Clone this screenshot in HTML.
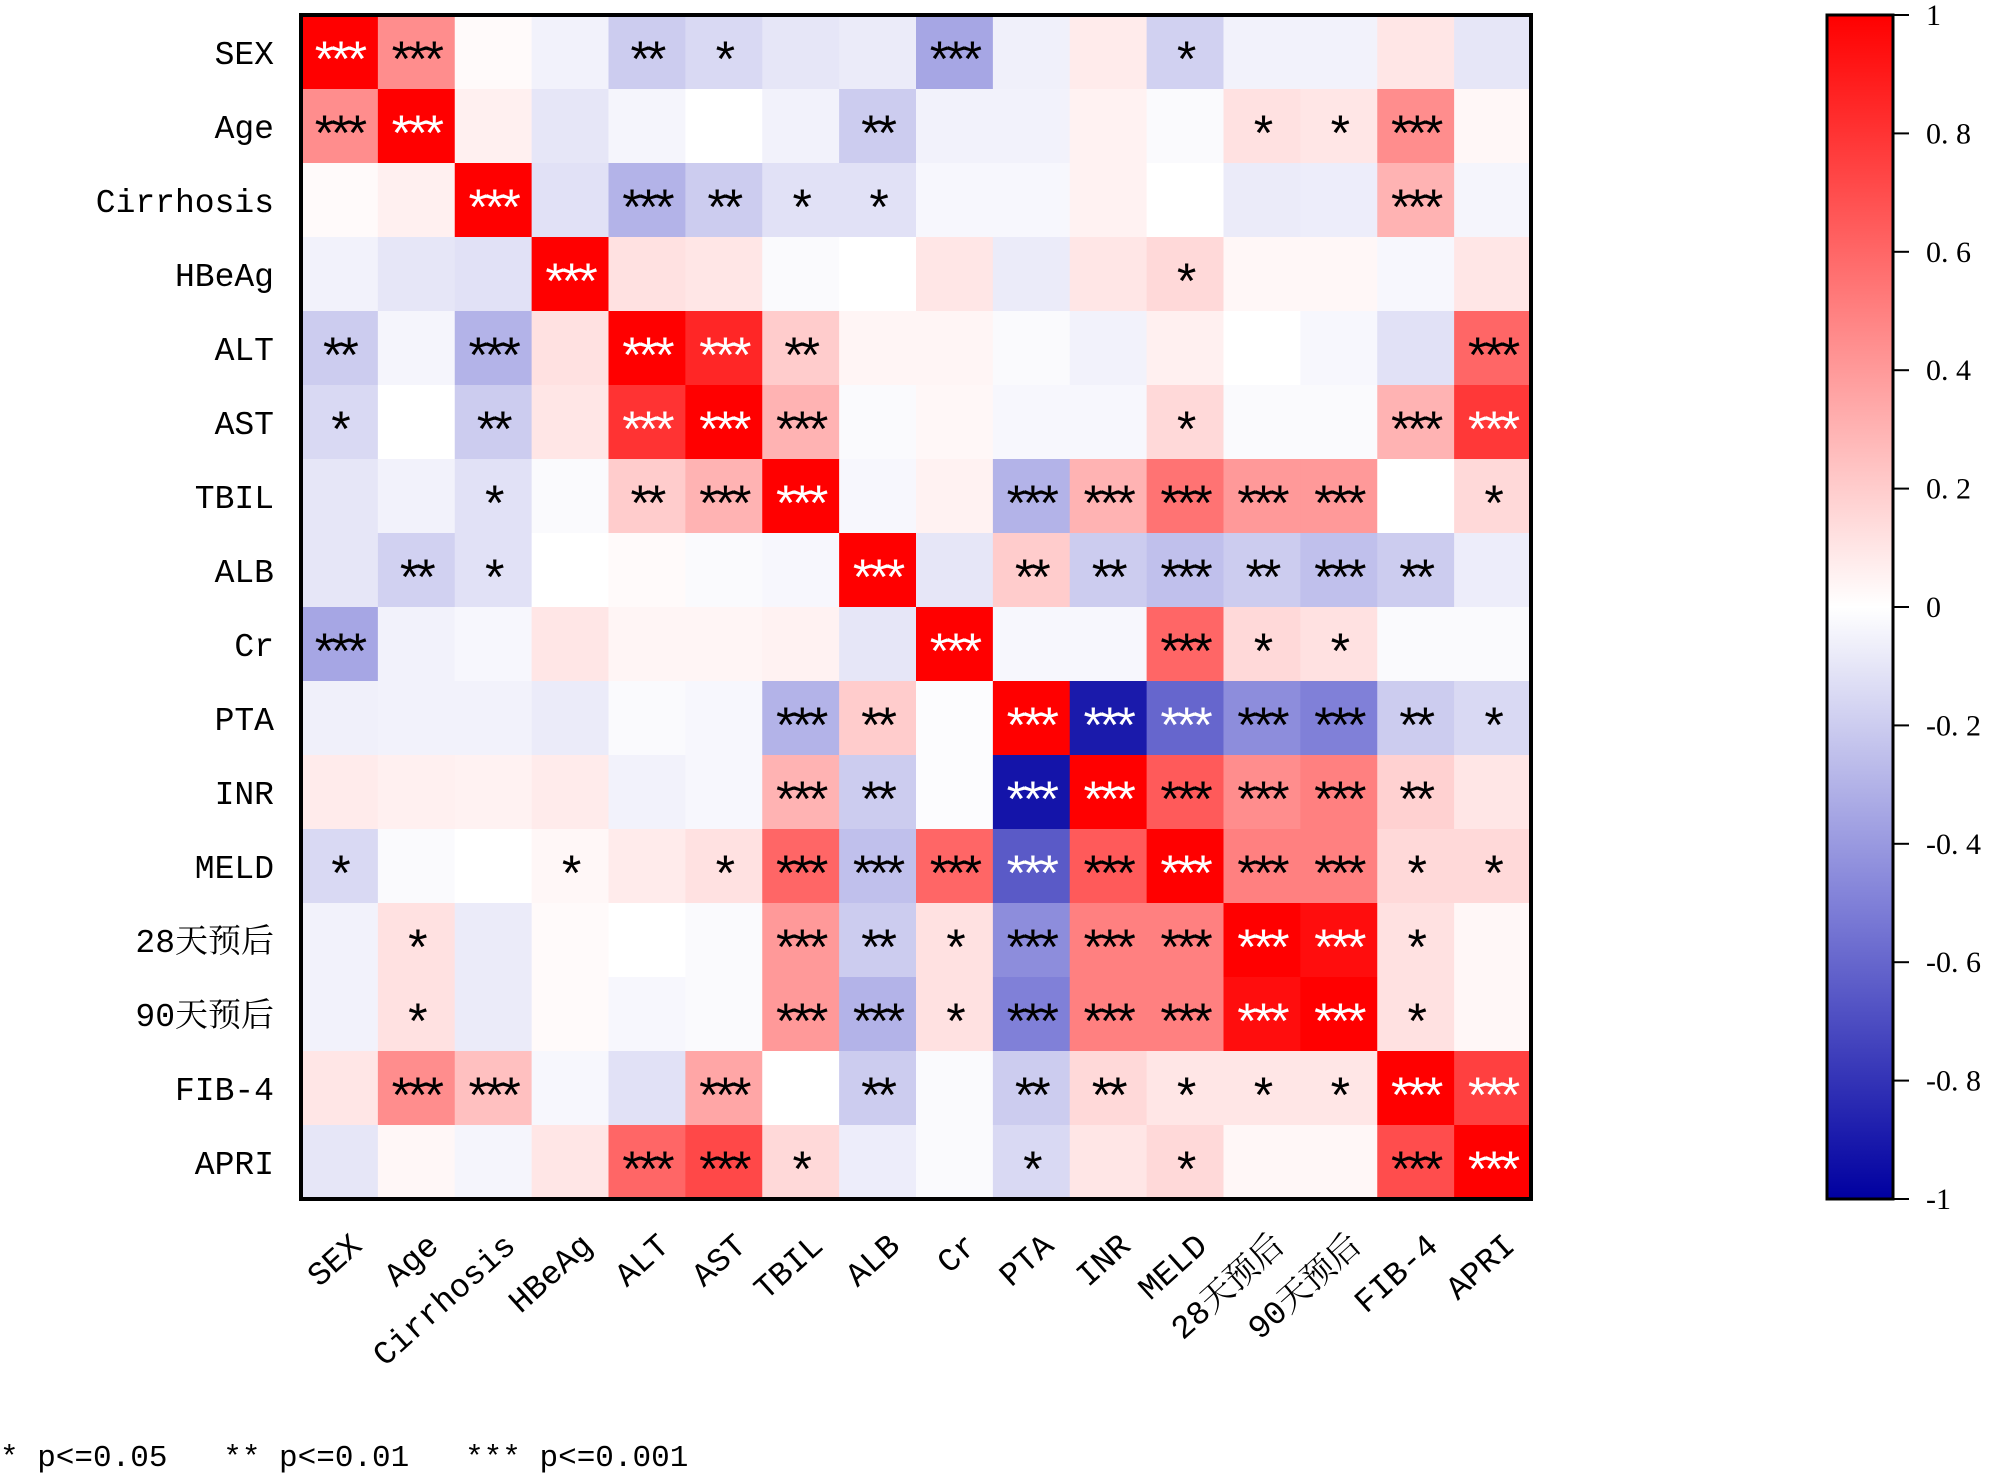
<!DOCTYPE html>
<html><head><meta charset="utf-8"><style>
html,body{margin:0;padding:0;background:#fff;}
svg{display:block;font-family:"Liberation Mono","Noto Serif CJK SC",monospace;}
</style></head><body>
<svg id="chart" width="2000" height="1474" viewBox="0 0 2000 1474">
<defs><linearGradient id="cbg" x1="0" y1="0" x2="0" y2="1">
<stop offset="0" stop-color="#ff0000"/><stop offset="0.25" stop-color="#ff8080"/><stop offset="0.5" stop-color="#ffffff"/><stop offset="0.75" stop-color="#8080d8"/><stop offset="1" stop-color="#0000a0"/></linearGradient></defs>
<g id="cells"></g><g id="stars"></g><g id="ylabels"></g><g id="xlabels"></g>
<rect x="301" y="15" width="1230" height="1184" fill="none" stroke="#000" stroke-width="4"/>
<rect x="1827" y="15" width="66" height="1184" fill="url(#cbg)" stroke="#000" stroke-width="3"/>
<g id="cbticks"></g>
<text x="0" y="1466" font-size="31" xml:space="preserve">* p&lt;=0.05   ** p&lt;=0.01   *** p&lt;=0.001</text>
</svg>
<script>
const labels=["SEX","Age","Cirrhosis","HBeAg","ALT","AST","TBIL","ALB","Cr","PTA","INR","MELD","28天预后","90天预后","FIB-4","APRI"];
const values=[
[1,0.45,0.02,-0.05,-0.2,-0.15,-0.1,-0.08,-0.35,-0.06,0.08,-0.18,-0.05,-0.05,0.1,-0.1],
[0.45,1,0.06,-0.1,-0.04,0,-0.05,-0.2,-0.05,-0.05,0.05,-0.02,0.12,0.1,0.45,0.03],
[0.02,0.06,1,-0.12,-0.3,-0.2,-0.12,-0.12,-0.03,-0.03,0.05,0,-0.08,-0.07,0.3,-0.04],
[-0.05,-0.1,-0.12,1,0.12,0.1,-0.02,0,0.1,-0.08,0.1,0.15,0.03,0.03,-0.03,0.1],
[-0.2,-0.04,-0.3,0.12,1,0.85,0.2,0.04,0.04,-0.02,-0.05,0.06,0,-0.03,-0.12,0.6],
[-0.15,0,-0.2,0.1,0.8,1,0.3,-0.02,0.03,-0.03,-0.03,0.15,-0.02,-0.02,0.3,0.78],
[-0.1,-0.05,-0.12,-0.02,0.2,0.3,1,-0.03,0.05,-0.3,0.3,0.55,0.4,0.4,0,0.15],
[-0.1,-0.18,-0.12,0,0.02,-0.02,-0.03,1,-0.1,0.2,-0.2,-0.25,-0.2,-0.25,-0.2,-0.07],
[-0.35,-0.05,-0.03,0.1,0.04,0.04,0.05,-0.1,1,-0.03,-0.03,0.6,0.15,0.12,-0.02,-0.02],
[-0.06,-0.05,-0.05,-0.08,-0.02,-0.03,-0.3,0.2,-0.01,1,-0.9,-0.6,-0.45,-0.5,-0.2,-0.15],
[0.08,0.06,0.05,0.08,-0.05,-0.03,0.3,-0.2,-0.01,-0.92,1,0.65,0.45,0.5,0.18,0.1],
[-0.15,-0.02,0,0.03,0.08,0.12,0.6,-0.25,0.6,-0.65,0.65,1,0.5,0.5,0.15,0.15],
[-0.05,0.12,-0.08,0.02,0,-0.02,0.4,-0.2,0.12,-0.45,0.5,0.5,1,0.95,0.12,0.03],
[-0.05,0.12,-0.08,0.02,-0.03,-0.02,0.4,-0.3,0.12,-0.5,0.5,0.5,0.95,1,0.12,0.03],
[0.1,0.45,0.25,-0.03,-0.12,0.35,0,-0.2,-0.02,-0.2,0.15,0.1,0.1,0.1,1,0.75],
[-0.1,0.03,-0.04,0.1,0.6,0.72,0.15,-0.07,-0.02,-0.15,0.1,0.15,0.03,0.03,0.7,1]];
const stars=[
[3,3,0,0,2,1,0,0,3,0,0,1,0,0,0,0],
[3,3,0,0,0,0,0,2,0,0,0,0,1,1,3,0],
[0,0,3,0,3,2,1,1,0,0,0,0,0,0,3,0],
[0,0,0,3,0,0,0,0,0,0,0,1,0,0,0,0],
[2,0,3,0,3,3,2,0,0,0,0,0,0,0,0,3],
[1,0,2,0,3,3,3,0,0,0,0,1,0,0,3,3],
[0,0,1,0,2,3,3,0,0,3,3,3,3,3,0,1],
[0,2,1,0,0,0,0,3,0,2,2,3,2,3,2,0],
[3,0,0,0,0,0,0,0,3,0,0,3,1,1,0,0],
[0,0,0,0,0,0,3,2,0,3,3,3,3,3,2,1],
[0,0,0,0,0,0,3,2,0,3,3,3,3,3,2,0],
[1,0,0,1,0,1,3,3,3,3,3,3,3,3,1,1],
[0,1,0,0,0,0,3,2,1,3,3,3,3,3,1,0],
[0,1,0,0,0,0,3,3,1,3,3,3,3,3,1,0],
[0,3,3,0,0,3,0,2,0,2,2,1,1,1,3,3],
[0,0,0,0,3,3,1,0,0,1,0,1,0,0,3,3]];
const cbTicks=[1,0.8,0.6,0.4,0.2,0,-0.2,-0.4,-0.6,-0.8,-1];
const X0=301,Y0=15,W=1230,H=1184,n=labels.length,cw=W/n,ch=H/n;
const xs=i=>X0+i*cw, ys=j=>Y0+j*ch, cbY=v=>15+(1-v)/2*1184;
const stops=[[-1,[0,0,160]],[-0.5,[128,128,216]],[0,[255,255,255]],[0.5,[255,128,128]],[1,[255,0,0]]];
function color(v){for(let k=0;k<stops.length-1;k++){const [a,ca]=stops[k],[b,cb]=stops[k+1];if(v>=a&&v<=b){const t=(v-a)/(b-a);return 'rgb('+ca.map((c,i)=>Math.round(c+(cb[i]-c)*t)).join(',')+')';}}return '#fff';}
const NS='http://www.w3.org/2000/svg';
function mk(tag,attrs,parent){const e=document.createElementNS(NS,tag);for(const k in attrs)e.setAttribute(k,attrs[k]);document.getElementById(parent).appendChild(e);return e;}
for(let r=0;r<n;r++)for(let c=0;c<n;c++){
 const v=values[r][c];
 const rc=mk('rect',{x:xs(c),y:ys(r),width:cw+0.6,height:ch+0.6,fill:color(v)},'cells');
 
 
 const s=stars[r][c];
 if(s>0){const t=mk('text',{x:xs(c)+cw/2,y:ys(r)+ch/2+24,'text-anchor':'middle','font-size':50,'font-family':'Liberation Sans, sans-serif',fill:(v>=0.75||v<=-0.55)?'#fff':'#000','letter-spacing':'-3'},'stars');
 t.textContent='*'.repeat(s);
 
 }
}
labels.forEach((l,i)=>{
 const t=mk('text',{x:274,y:ys(i)+ch/2+12,'text-anchor':'end','font-size':33},'ylabels');
 t.textContent=l;
 
 
 const cx=xs(i)+cw/2+24,cy=1248;
 const u=mk('text',{x:cx,y:cy,'text-anchor':'end','font-size':33,transform:'rotate(-42 '+cx+' '+cy+')'},'xlabels');
 u.textContent=l;
 
 
});
cbTicks.forEach(v=>{
 const y=cbY(v);
 const ln=mk('line',{x1:1893,x2:1909,y1:y,y2:y,stroke:'#000','stroke-width':2},'cbticks');
 
 
 const t=mk('text',{x:1926,y:y+10,'font-size':30,'font-family':'Liberation Serif, serif'},'cbticks');
 t.textContent=(v<0?'-':'')+String(Math.abs(v)).replace('.','. ');
 
 
});
</script>
</body></html>
